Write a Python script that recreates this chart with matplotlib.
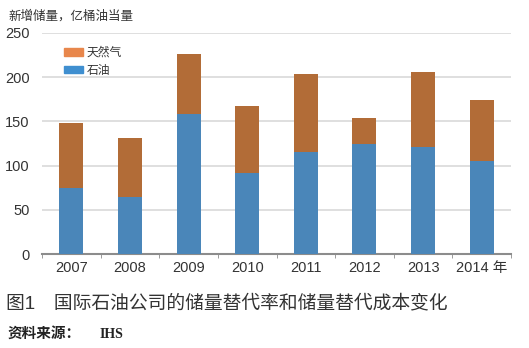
import matplotlib.pyplot as plt
from matplotlib.patches import Patch

plt.rcParams['font.family'] = ['Liberation Sans', 'Noto Sans CJK SC', 'DejaVu Sans']

years = ['2007', '2008', '2009', '2010', '2011', '2012', '2013', '2014 年']
oil = [75, 64, 158, 92, 115, 125, 121, 105]
gas = [73, 67, 68, 75, 89, 29, 85, 69]

oil_color = '#4a86b9'
gas_color = '#b26c37'

fig = plt.figure(figsize=(5.29, 3.48), dpi=100)
ax = fig.add_axes([42 / 529, 1 - 254 / 348, 469 / 529, 221 / 348])

x = range(len(years))
ax.bar(x, oil, width=0.41, color=oil_color, zorder=3)
ax.bar(x, gas, width=0.41, bottom=oil, color=gas_color, zorder=3)

ax.set_xlim(-0.5, 7.5)
ax.set_ylim(0, 250)
ax.set_yticks([0, 50, 100, 150, 200, 250])
ax.yaxis.grid(True, color='#d9d9d9', linewidth=1.2, zorder=0)
ax.tick_params(axis='y', length=0, labelsize=10.5, colors='#333333', pad=9)

ax.set_xticks(list(x))
ax.set_xticklabels(years)
ax.set_xticks([i - 0.5 for i in range(9)], minor=True)
ax.tick_params(axis='x', which='major', length=0, labelsize=10.5, colors='#333333', pad=5)
ax.tick_params(axis='x', which='minor', length=3, color='#8c8c8c', direction='out')

for s in ['top', 'right', 'left']:
    ax.spines[s].set_visible(False)
ax.spines['bottom'].set_color('#8c8c8c')
ax.spines['bottom'].set_linewidth(1.5)

# legend
handles = [Patch(color='#e8874c', label='天然气'), Patch(color='#3f8fd0', label='石油')]
ax.legend(handles=handles, loc='upper left', bbox_to_anchor=(0.025, 0.985), frameon=False,
          fontsize=8.5, handlelength=1.6, handleheight=0.6, handletextpad=0.3,
          labelspacing=0.5, labelcolor='#333333')

fig.text(8 / 529, 1 - 16 / 348, '新增储量，亿桶油当量', fontsize=9, color='#333333', va='center')
fig.text(6 / 529, 1 - 303 / 348, '图1　国际石油公司的储量替代率和储量替代成本变化',
         fontsize=13.5, color='#333333', va='center')
fig.text(8 / 529, 1 - 334 / 348, '资料来源：', fontsize=10.5, fontweight='bold',
         color='#222222', va='center')
fig.text(100 / 529, 1 - 334 / 348, 'IHS', fontsize=10, fontweight='bold', family='Liberation Serif',
         color='#222222', va='center')

fig.savefig('out.png', dpi=100)
